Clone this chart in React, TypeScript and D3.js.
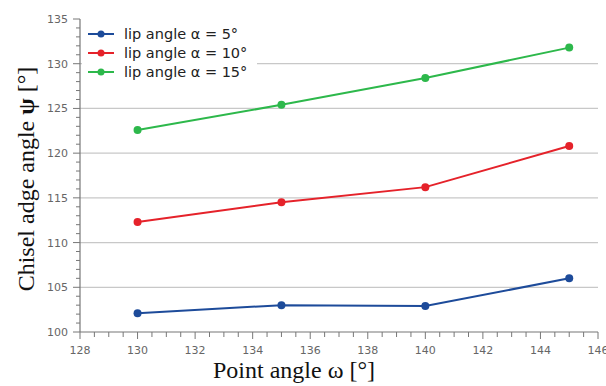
import * as d3 from "d3";

const pointAngles = [130, 135, 140, 145];
const lip5 = [102.1, 103.0, 102.9, 106.0];
const lip10 = [112.3, 114.5, 116.2, 120.8];
const lip15 = [122.6, 125.4, 128.4, 131.8];
const seriesLabels = ["lip angle α = 5°", "lip angle α = 10°", "lip angle α = 15°"];
const seriesColors = ["#1d4b9a", "#e5222a", "#2db84b"];
const xTickValues = [128, 130, 132, 134, 136, 138, 140, 142, 144, 146];
const yTickValues = [100, 105, 110, 115, 120, 125, 130, 135];

const width = 606;
const height = 386;
const plot = { left: 80, right: 598, top: 19, bottom: 332 };

export default function App() {
  const xScale = d3.scaleLinear().domain([128, 146]).range([plot.left, plot.right]);
  const yScale = d3.scaleLinear().domain([100, 135]).range([plot.bottom, plot.top]);
  const series = [lip5, lip10, lip15];
  const line = d3.line<number>()
    .x((_, i) => xScale(pointAngles[i]))
    .y((v) => yScale(v));

  const xMinor = d3.range(128, 146.01, 0.5);
  const yMinor = d3.range(100, 135.01, 1);

  return (
    <svg width={width} height={height} style={{ position: "absolute", left: 0, top: 0, background: "#fff" }}>
      {yTickValues.filter((t) => t > 100 && t < 135).map((t) => (
        <line key={`g-${t}`} x1={plot.left} x2={plot.right} y1={yScale(t)} y2={yScale(t)} stroke="#c8c8c8" strokeWidth={1.2} />
      ))}

      {/* legend background hides the grid */}
      <rect x={82} y={22} width={175} height={60} fill="#fff" />

      {series.map((values, si) => (
        <g key={`s-${si}`}>
          <path d={line(values) ?? ""} fill="none" stroke={seriesColors[si]} strokeWidth={2} />
          {values.map((v, i) => (
            <circle key={i} cx={xScale(pointAngles[i])} cy={yScale(v)} r={4} fill={seriesColors[si]} />
          ))}
        </g>
      ))}

      <line x1={plot.left} x2={plot.left} y1={plot.top} y2={plot.bottom} stroke="#777" strokeWidth={1.2} />
      <line x1={plot.left} x2={plot.right} y1={plot.bottom} y2={plot.bottom} stroke="#777" strokeWidth={1.2} />

      {yMinor.map((t) => (
        <line key={`ym-${t}`} x1={t % 5 === 0 ? plot.left - 7 : plot.left - 4} x2={plot.left} y1={yScale(t)} y2={yScale(t)} stroke="#777" />
      ))}
      {xMinor.map((t) => (
        <line key={`xm-${t}`} x1={xScale(t)} x2={xScale(t)} y1={plot.bottom} y2={t % 2 === 0 ? plot.bottom + 7 : plot.bottom + 5} stroke="#777" />
      ))}

      {yTickValues.map((t) => (
        <text key={`yl-${t}`} x={plot.left - 12} y={yScale(t) + 4} textAnchor="end" fontFamily="DejaVu Sans" fontSize={11} fill="#666">{t}</text>
      ))}
      {xTickValues.map((t) => (
        <text key={`xl-${t}`} x={xScale(t)} y={354} textAnchor="middle" fontFamily="DejaVu Sans" fontSize={11} fill="#666">{t}</text>
      ))}

      {seriesLabels.map((label, i) => (
        <g key={`lg-${i}`} transform={`translate(0, ${34 + i * 19})`}>
          <line x1={88} x2={114} y1={0} y2={0} stroke={seriesColors[i]} strokeWidth={2} />
          <circle cx={101} cy={0} r={3.5} fill={seriesColors[i]} />
          <text x={124} y={5} fontFamily="DejaVu Sans" fontSize={14.5} fill="#222">{label}</text>
        </g>
      ))}

      <text x={294} y={378} textAnchor="middle" fontFamily="Liberation Serif" fontSize={24} fill="#111">Point angle ω [°]</text>
      <text transform={`translate(34, 179) rotate(-90)`} textAnchor="middle" fontFamily="Liberation Serif" fontSize={24} fill="#111">
        Chisel adge angle <tspan fontWeight="bold">ψ</tspan> [°]
      </text>
    </svg>
  );
}
